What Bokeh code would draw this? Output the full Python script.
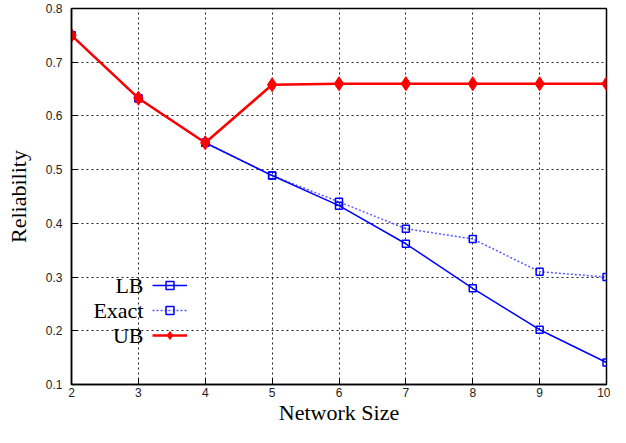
from bokeh.plotting import figure
from bokeh.models import Range1d, FixedTicker, Legend, LegendItem, Label
from bokeh.embed import file_html
from bokeh.resources import INLINE

# ---- data ----
network_size = [2, 3, 4, 5, 6, 7, 8, 9, 10]
lb_values = [0.75, 0.633, 0.55, 0.489, 0.433, 0.362, 0.279, 0.202, 0.141]
exact_values = [0.75, 0.633, 0.55, 0.489, 0.44, 0.39, 0.371, 0.31, 0.30]
ub_values = [0.75, 0.633, 0.55, 0.658, 0.66, 0.66, 0.66, 0.66, 0.66]
x_ticks = [2, 3, 4, 5, 6, 7, 8, 9, 10]
y_ticks = [0.1, 0.2, 0.3, 0.4, 0.5, 0.6, 0.7, 0.8]
series_names = ["LB", "Exact", "UB"]
x_title = "Network Size"
y_title = "Reliability"

SERIF = "Liberation Serif"
SANS = "Liberation Sans"

p = figure(width=610, height=427, output_backend="svg", toolbar_location=None,
           x_range=Range1d(2, 10), y_range=Range1d(0.1, 0.8),
           min_border_left=71, min_border_right=4, min_border_top=8, min_border_bottom=10)

p.background_fill_color = "white"
p.border_fill_color = "white"
p.outline_line_color = "black"
p.outline_line_width = 1.5
p.outline_line_alpha = 1

for ax in (p.xaxis[0], p.yaxis[0]):
    ax.major_tick_in = 6
    ax.major_tick_out = 0
    ax.minor_tick_in = 0
    ax.minor_tick_out = 0
    ax.axis_line_color = "black"
    ax.axis_line_width = 1.5
    ax.major_tick_line_color = "black"
    ax.major_label_text_font = SANS
    ax.major_label_text_font_size = "12px"
    ax.major_label_text_color = "#222222"
    ax.axis_label_text_font = SERIF
    ax.axis_label_text_font_size = "22px"
    ax.axis_label_text_font_style = "normal"
    ax.axis_label_text_color = "black"

p.xaxis[0].ticker = FixedTicker(ticks=x_ticks)
p.yaxis[0].ticker = FixedTicker(ticks=y_ticks)
p.xaxis[0].axis_label = x_title
p.yaxis[0].axis_label = y_title
p.xaxis[0].major_label_standoff = 3
p.xaxis[0].axis_label_standoff = 0
p.yaxis[0].major_label_standoff = 9
p.yaxis[0].axis_label_standoff = 12

for g in (p.xgrid[0], p.ygrid[0]):
    g.grid_line_color = "#222222"
    g.grid_line_dash = "2 3"
    g.grid_line_width = 1
p.xgrid[0].ticker = FixedTicker(ticks=x_ticks)
p.ygrid[0].ticker = FixedTicker(ticks=y_ticks)

# ---- series ----
ex_line = p.line(network_size, exact_values, line_color="#5a5aff", line_width=1.5, line_dash="2 2")
ex_pts = p.scatter(network_size, exact_values, marker="square", size=7, fill_color=None,
                   line_color="#0000ff", line_width=1.5)
lb_line = p.line(network_size, lb_values, line_color="#0000ff", line_width=1.5)
lb_pts = p.scatter(network_size, lb_values, marker="square", size=7, fill_color=None,
                   line_color="#0000ff", line_width=1.5)
ub_line = p.line(network_size, ub_values, line_color="#ff0000", line_width=2.5)
ub_pts = p.scatter(network_size, ub_values, marker="diamond", size=14, fill_color="#ff0000",
                   line_color="#ff0000", line_width=1)

legend = Legend(items=[LegendItem(label=" ", renderers=[lb_line, lb_pts]),
                       LegendItem(label=" ", renderers=[ex_line, ex_pts]),
                       LegendItem(label=" ", renderers=[ub_line, ub_pts])],
                location=(81, 39), glyph_width=35, glyph_height=20, spacing=5,
                padding=0, margin=0, label_standoff=0, label_width=0, label_height=0,
                label_text_font_size="1px", border_line_alpha=0, background_fill_alpha=0)
p.add_layout(legend, "center")

for name, yy in zip(series_names, [99, 74, 49]):
    p.add_layout(Label(x=72, y=yy, x_units="screen", y_units="screen", text=name,
                       text_align="right", text_baseline="middle", text_font=SERIF,
                       text_font_size="22px", text_color="black"))

open("out.html", "w").write(file_html(p, INLINE))
